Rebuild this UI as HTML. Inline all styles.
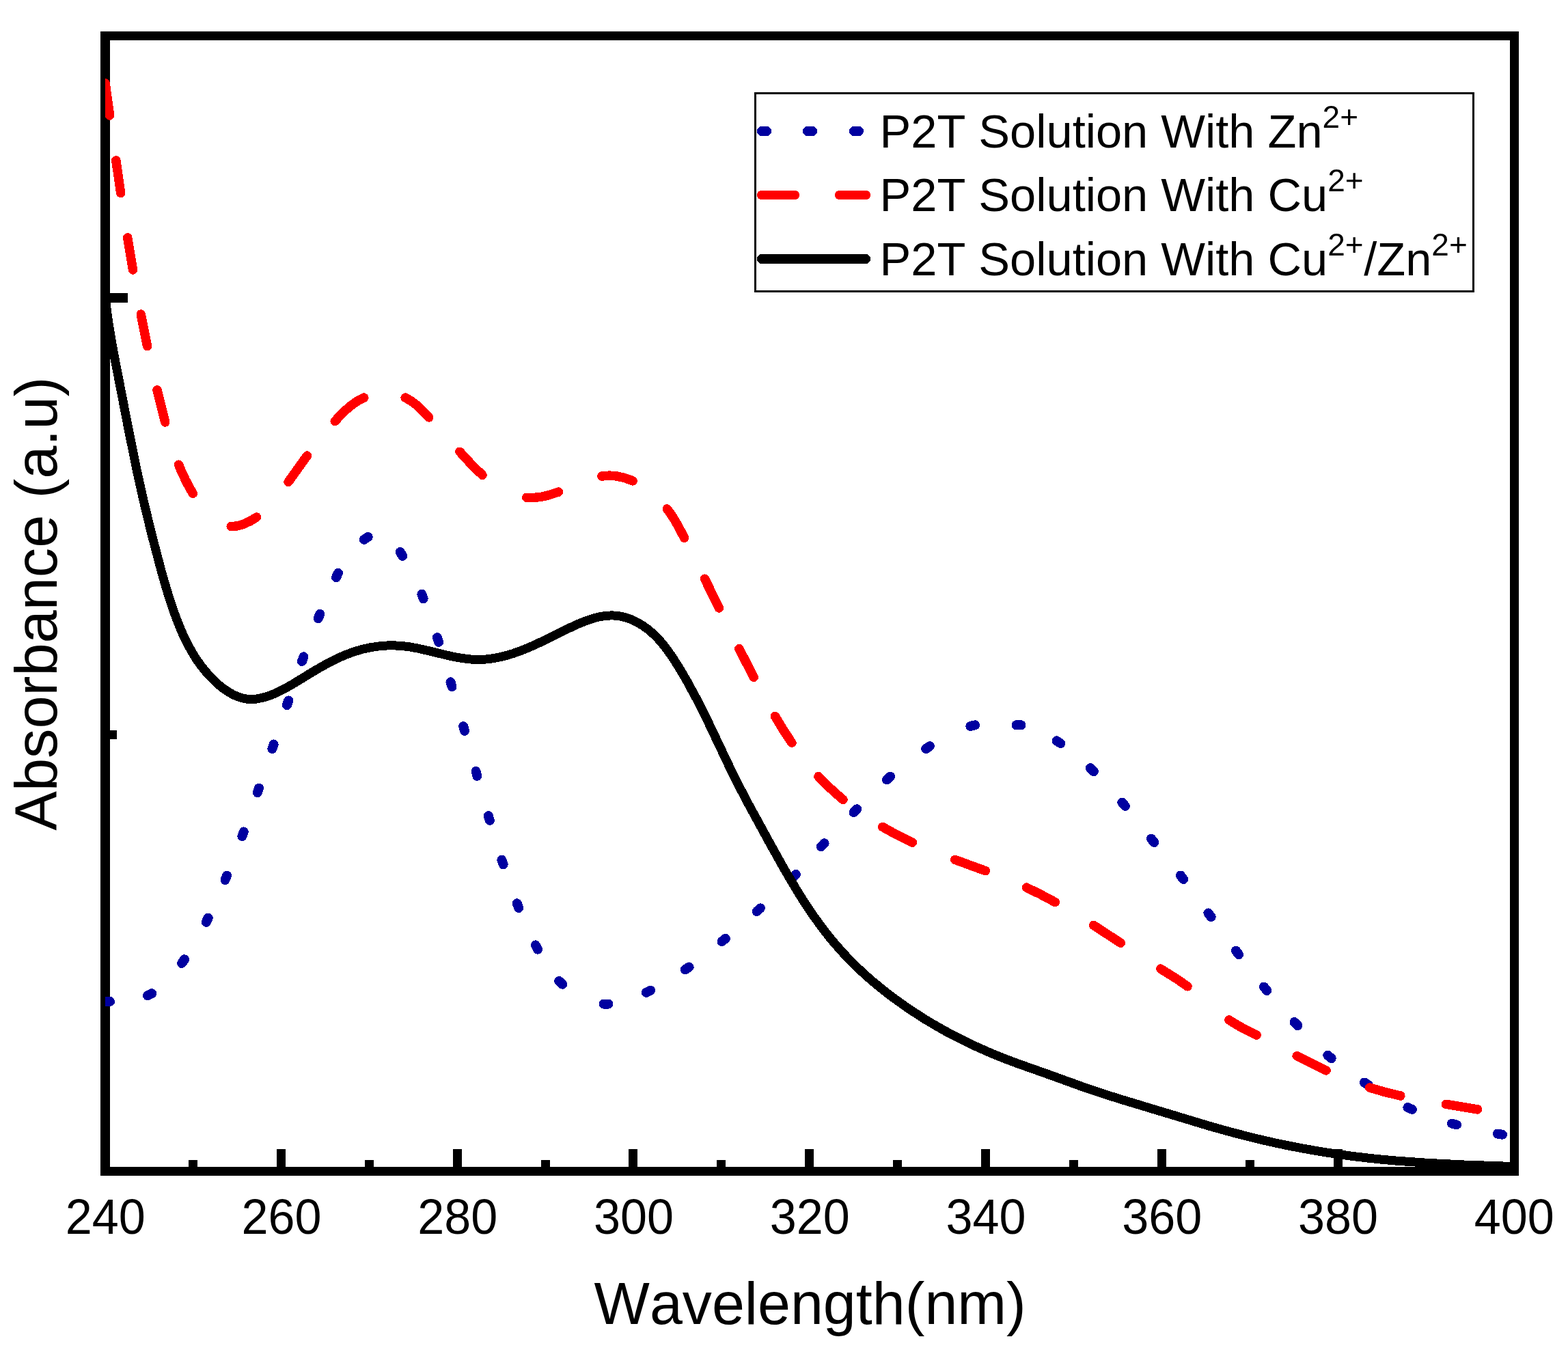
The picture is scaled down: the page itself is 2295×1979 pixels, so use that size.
<!DOCTYPE html>
<html lang="en"><head><meta charset="utf-8"><title>UV-Vis Absorbance of P2T Solutions</title>
<style>
html,body{margin:0;padding:0;background:#fff;}
body{width:2295px;height:1979px;overflow:hidden;}
svg{display:block;}
text{font-family:"Liberation Sans",Arial,Helvetica,sans-serif;fill:#000;font-kerning:none;font-variant-ligatures:none;}
.tick{font-size:72.4px;text-anchor:middle;}
.title{font-size:86.2px;text-anchor:middle;}
.leg{font-size:68.6px;}
.sup{font-size:46px;}
.curve{fill:none;stroke-width:13;stroke-linecap:round;stroke-linejoin:round;}
</style></head><body>
<svg xmlns="http://www.w3.org/2000/svg" width="2295" height="1979" viewBox="0 0 2295 1979">
<rect x="0" y="0" width="2295" height="1979" fill="#fff"/>
<defs><clipPath id="plot"><rect x="154" y="52" width="2063" height="1663"/></clipPath></defs>
<g fill="#000" shape-rendering="crispEdges">
<rect x="147" y="46" width="2076" height="13"/>
<rect x="147" y="1708" width="2076" height="13"/>
<rect x="147" y="46" width="14" height="1675"/>
<rect x="2210" y="46" width="13" height="1675"/>
<rect x="405" y="1682" width="13" height="27"/>
<rect x="663" y="1682" width="13" height="27"/>
<rect x="920" y="1682" width="13" height="27"/>
<rect x="1178" y="1682" width="13" height="27"/>
<rect x="1436" y="1682" width="13" height="27"/>
<rect x="1694" y="1682" width="13" height="27"/>
<rect x="1952" y="1682" width="13" height="27"/>
<rect x="276" y="1698" width="13" height="11"/>
<rect x="534" y="1698" width="13" height="11"/>
<rect x="792" y="1698" width="13" height="11"/>
<rect x="1049" y="1698" width="13" height="11"/>
<rect x="1307" y="1698" width="13" height="11"/>
<rect x="1565" y="1698" width="13" height="11"/>
<rect x="1823" y="1698" width="13" height="11"/>
<rect x="2080" y="1698" width="13" height="11"/>
<rect x="160" y="429" width="27" height="14"/>
<rect x="160" y="1069" width="11" height="13"/>
</g>
<g clip-path="url(#plot)" shape-rendering="crispEdges">
<path class="curve" style="stroke-width:14" stroke="#0000A0" d="M154 1466.1L161 1465.9M216 1457.3L222.2 1454.3M266 1410.1L270 1404.3M301.7 1349.8L304.7 1343.6M329.5 1288L332.1 1281.6M354.4 1224.1L356.8 1217.5M376.9 1160.1L379.1 1153.5M398.4 1096.1L400.6 1089.5M420 1032.1L422.2 1025.5M442 968L444.4 961.4M465.7 905.3L468.3 898.7M492 845.2L495 838.8M532.8 789.9L538.6 785.9M585.8 807.9L589.2 813.9M617.4 869.7L619.6 876.3M639.9 933.2L642.1 939.8M659.5 998.3L661.5 1005.1M678.2 1063.2L680 1070M696.6 1129.1L698.4 1135.9M714.8 1194.1L716.8 1200.9M734.4 1258.7L736.6 1265.3M756.7 1322.3L759.3 1328.9M783.8 1383.4L787 1389.6M818.2 1436L823.2 1440.8M883.5 1469.5L890.5 1469.5M945.9 1452.8L952.1 1449.6M1002.8 1419.3L1008.6 1415.5M1056.5 1378.2L1061.9 1373.8M1107.7 1334.1L1112.9 1329.3M1160.1 1285L1164.9 1280M1201.8 1239.3L1206.6 1234.3M1249.5 1189.2L1254.3 1184.2M1297.9 1141.4L1303.1 1136.6M1355.2 1096L1361 1092.2M1420.4 1062.9L1427.2 1061.3M1487.5 1061.3L1494.5 1061.3M1546.6 1084.4L1552.4 1088.2M1595.9 1124.2L1600.9 1129.2M1642.3 1174.6L1646.9 1180M1684.9 1227.6L1689.3 1233M1727.9 1281.5L1732.1 1287.1M1768.4 1336.4L1772.6 1342M1808.9 1391.6L1813.1 1397.2M1849.9 1444.5L1854.3 1449.9M1894.5 1496.1L1899.3 1501.1M1943.3 1544.6L1948.7 1549.2M1997 1584.5L2002.8 1588.3M2060.4 1621.1L2066.8 1623.9M2125.1 1644.6L2131.9 1646.4M2191.9 1659.5L2198.9 1660.7"/>
<path class="curve" style="stroke-width:13.5" stroke="#FF0000" d="M154.1 121.9L160.6 169M169.8 234.9L176.7 282.6M186.7 347.8L194.5 395M206.3 460.1L215.6 506.6M229.9 570.8L241.7 618M261.5 680.2L266.2 691.4 271.2 702 276.5 712.3 282.3 722.3M338.1 770.5L342.3 770.4 346.6 769.9 351.2 768.8 355.9 767.4 365.7 763 375.6 757M422 705.6L449.5 667.1M490.2 616.5L501.9 604.1 512.3 594.7 522.5 587.5 527.7 584.5 532.8 582.1M593.2 582.1L601.2 586.6 609.2 592.5 617.4 600.1 627.8 611M672.9 661.2L691.2 681.1 706 695.3M770.7 728.3L781.2 728.5 792.4 727.3 804.4 724.4 817.4 720.1M880.9 697L886.4 696.4 891.9 696.2 897.6 696.4 903.4 697.1 914.7 699.7 926.2 703.9M976.4 744.8L982.3 753.1 988.2 762.4 994.2 773.1 1001.6 787.4M1031.5 847.2L1052.4 890M1081.9 949.6L1103.2 991.4M1134.4 1048.4L1146.7 1068.8 1158.9 1087.3M1197.9 1136.5L1206.4 1145.3 1215.3 1153.9 1224.5 1162.3 1234 1170.4M1291.8 1210.5L1313.1 1222.2 1335.5 1233.1M1397.8 1258.4L1442.4 1274.7M1502.4 1299.1L1523.1 1309.2 1544.4 1320.6M1600.6 1354.4L1640.3 1380.3M1698.7 1418.1L1722.7 1433.1 1738 1443.8M1798.8 1493L1814.7 1502.6 1839 1515.1M1898.2 1545.7L1921.2 1557.3 1941 1566.8M2004.6 1592L2026.2 1598.3 2049.8 1604M2116.3 1616.3L2162.7 1623.9"/>
<path class="curve" stroke="#000" d="M154 435.5L156.3 454 159.1 473.6 162.5 494.6 166.5 517.2 188.2 629.1 200.2 688.3 210.6 735 222.3 783.3 235.9 835 241.4 854.3 246.5 871.4 251.2 885.8 255.7 898.7 260.2 910.6 264.7 921.7 269.4 932.3 274.2 942 279.2 951.2 284.3 959.9 289.8 968.3 295.5 976.1 301.6 983.6 307.8 990.6 314.5 997.2 321.2 1003.3 328.1 1008.7 334.7 1013.1 341.6 1017 348.4 1019.9 355.1 1022 361.6 1023.2 367.9 1023.6 374.6 1023.1 382.1 1021.8 389.9 1019.7 396.5 1017.4 402.9 1014.8 409.7 1011.6 416.8 1008 428.7 1001.2 455 985.1 468.4 977.2 481.3 970 493.5 963.9 506 958.4 518 954 530 950.4 542.3 947.7 553.9 946 565.7 945 577.6 944.9 589 945.6 600.1 947 612.2 949.2 624.6 952 657.8 960 667.7 962 676.9 963.6 687.1 964.9 696.7 965.5 705.9 965.4 715.1 964.7 726.7 962.9 738.7 960.2 751.2 956.5 764.2 951.8 776 946.9 788.4 941.3 828.7 921.5 843.5 914.5 856.7 909 868.8 905 876.1 903.1 883.1 901.9 889.8 901.1 896.1 900.9 902.4 901.3 908.4 902.1 914.7 903.6 920.9 905.6 925.6 907.5 930.6 909.9 940.1 915.3 948.9 921.6 957.6 929.2 965.8 937.7 973.8 947.4 982 958.8 990.9 972.4 998.4 984.7 1005.7 997.4 1020.6 1024.9 1035.7 1055.1 1066.3 1119.6 1080.1 1147.7 1095.9 1177.8 1124.1 1229.4 1146.9 1270.4 1165.3 1301.5 1174.2 1315.8 1182.9 1329.1 1191.4 1341.6 1200 1353.5 1207.5 1363.5 1215.3 1373.4 1223.2 1382.7 1231.2 1391.8 1239.5 1400.8 1248.3 1409.7 1257.3 1418.5 1266.8 1427.3 1276.5 1435.8 1286.5 1444.1 1296.9 1452.5 1307.5 1460.5 1329.5 1476.2 1352.8 1491.3 1368.5 1500.7 1384.8 1509.9 1401.3 1518.6 1418.4 1527.1 1435.4 1534.9 1452.8 1542.5 1470.5 1549.6 1489.3 1556.7 1540.5 1574.8 1586.5 1591.5 1621.6 1603.2 1647 1611.1 1769.6 1648.1 1798 1656.1 1825.5 1663.3 1846.8 1668.5 1868.5 1673.4 1890.4 1677.9 1912.2 1682 1934.2 1685.8 1956.2 1689.2 1978.3 1692.2 2000.4 1694.9 2021.5 1697.1 2043.4 1699.1 2090.8 1702.4 2142.9 1705 2216.5 1707.6"/>
</g>
<g shape-rendering="crispEdges">
<rect x="1105.5" y="136.5" width="1051" height="290" fill="#fff" stroke="#000" stroke-width="3"/>
<path class="curve" style="stroke-width:14" stroke="#0000A0" d="M1115 192h7M1182 192h7M1250 192h7"/>
<path class="curve" style="stroke-width:13" stroke="#FF0000" d="M1114.4 285.5h49.3M1228.3 285.5h39.4"/>
<path class="curve" style="stroke-width:14" stroke="#000" d="M1115 379h152.2"/>
</g>
<text class="leg" x="1287.5" y="216"><tspan>P2T Solution With Zn</tspan><tspan class="sup" dy="-29" dx="0">2+</tspan></text>
<text class="leg" x="1287.5" y="308.7"><tspan>P2T Solution With Cu</tspan><tspan class="sup" dy="-29" dx="0">2+</tspan></text>
<text class="leg" x="1287.5" y="402.5"><tspan>P2T Solution With Cu</tspan><tspan class="sup" dy="-29" dx="0">2+</tspan><tspan dy="29" dx="0.5">/Zn</tspan><tspan class="sup" dy="-29" dx="0">2+</tspan></text>
<text class="tick" transform="translate(154.2 1805.6) scale(0.969 1)">240</text>
<text class="tick" transform="translate(412 1805.6) scale(0.969 1)">260</text>
<text class="tick" transform="translate(669.8 1805.6) scale(0.969 1)">280</text>
<text class="tick" transform="translate(927.5 1805.6) scale(0.969 1)">300</text>
<text class="tick" transform="translate(1185.2 1805.6) scale(0.969 1)">320</text>
<text class="tick" transform="translate(1443 1805.6) scale(0.969 1)">340</text>
<text class="tick" transform="translate(1700.8 1805.6) scale(0.969 1)">360</text>
<text class="tick" transform="translate(1958.5 1805.6) scale(0.969 1)">380</text>
<text class="tick" transform="translate(2216.2 1805.6) scale(0.969 1)">400</text>
<text class="title" x="1185.7" y="1938">Wavelength(nm)</text>
<text class="title" style="font-size:86.6px" transform="translate(83 883.7) rotate(-90)" x="0" y="0">Absorbance (a.u)</text>
</svg>
</body></html>
